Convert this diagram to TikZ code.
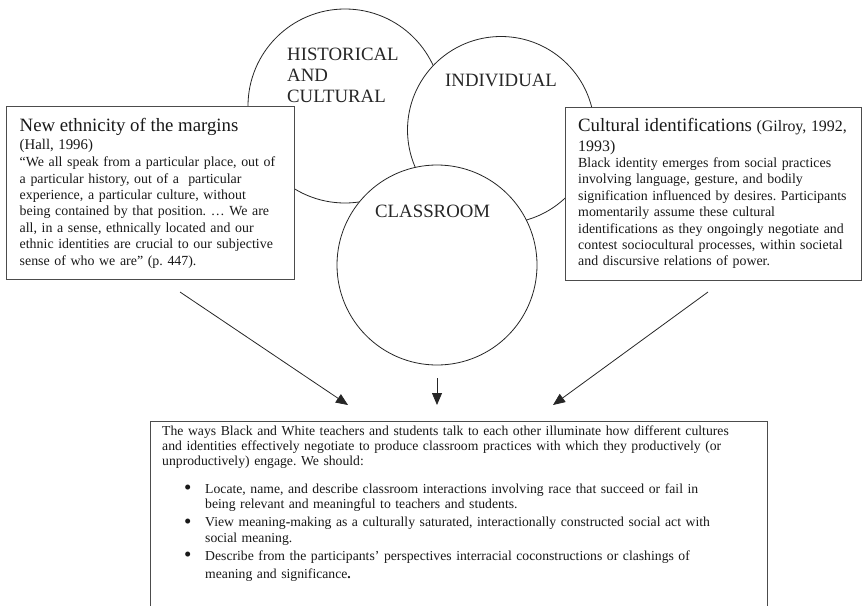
\documentclass[tikz,border=0pt]{standalone}
\usepackage{fontspec}
\setmainfont{Liberation Serif}
\usetikzlibrary{arrows.meta}
\newcommand{\listdot}{\raisebox{-1.2pt}{\fontsize{21}{15}\selectfont •}}
\begin{document}
\frenchspacing
\begin{tikzpicture}[x=1pt,y=-1pt,
  ring/.style={circle, draw=black!85, line width=0.8pt, fill=white, inner sep=0pt},
  ringlabel/.style={inner sep=0pt, anchor=base west, text width=#1, align=left,
    font=\fontsize{18.8}{21.3}\selectfont, text=black!85},
  panel/.style={draw=black!70, line width=1.2pt, fill=white, inner sep=0pt, anchor=north west},
  paneltext/.style={inner sep=0pt, anchor=base west, text width=#1, align=left,
    font=\fontsize{13.9}{16.4}\selectfont, text=black!90},
  flow/.style={draw=black!85, line width=0.8pt, -{Triangle[length=12pt,width=10pt]}}
]
\useasboundingbox (0,0) rectangle (864,605);
\clip (0,0) rectangle (864,605);

% three overlapping spheres of identity
\node[ring, minimum size=194pt] (hist) at (345,106) {};
\node[ringlabel=120pt] (histlbl) at (287,60) {HISTORICAL\\AND\\CULTURAL};
\node[ring, minimum size=187pt] (indiv) at (501,130) {};
\node[ringlabel=130pt] (indivlbl) at (445,86.7) {INDIVIDUAL};
\node[ring, minimum size=200pt] (class) at (437,265) {};
\node[ringlabel=130pt] (classlbl) at (375,217.7) {CLASSROOM};

% theory panels
\node[panel, minimum width=288pt, minimum height=173pt] (hall) at (6,106) {};
\node[paneltext=270pt] (halltxt) at (19.5,131.7) {%
  {\fontsize{18.8}{20}\selectfont New ethnicity of the margins}\\[1.4pt]
  {\fontsize{14.8}{16}\selectfont (Hall, 1996)}\\[0.8pt]
  “We all speak from a particular place, out of\\
  a particular history, out of a\ \ particular\\
  experience, a particular culture, without\\
  being contained by that position. … We are\\
  all, in a sense, ethnically located and our\\
  ethnic identities are crucial to our subjective\\
  sense of who we are” (p. 447).};

\node[panel, minimum width=296pt, minimum height=173pt] (gilroy) at (565,107) {};
\node[paneltext=285pt] (gilroytxt) at (578,131.7) {%
  {\fontsize{18.8}{20}\selectfont Cultural identifications}
  {\fontsize{15.9}{16}\selectfont (Gilroy, 1992,}\\[3.4pt]
  {\fontsize{15.9}{16}\selectfont 1993)}\\[-0.4pt]
  Black identity emerges from social practices\\
  involving language, gesture, and bodily\\
  signification influenced by desires. Participants\\
  momentarily assume these cultural\\
  identifications as they ongoingly negotiate and\\
  contest sociocultural processes, within societal\\
  and discursive relations of power.};

% synthesis panel
\node[panel, minimum width=617pt, minimum height=230pt] (synth) at (150,421) {};
\node[paneltext=610pt, font=\fontsize{13.7}{15.3}\selectfont] (synthtxt) at (162,435) {%
  The ways Black and White teachers and students talk to each other illuminate how different cultures\\
  and identities effectively negotiate to produce classroom practices with which they productively (or\\
  unproductively) engage. We should:\\[12.7pt]
  \hspace*{22pt}\makebox[21pt][l]{\listdot}Locate, name, and describe classroom interactions involving race that succeed or fail in\\
  \hspace*{43pt}being relevant and meaningful to teachers and students.\\[2.7pt]
  \hspace*{22pt}\makebox[21pt][l]{\listdot}View meaning\textbf{-}making as a culturally saturated, interactionally constructed social act with\\
  \hspace*{43pt}social meaning.\\[2.7pt]
  \hspace*{22pt}\makebox[21pt][l]{\listdot}Describe from the participants’ perspectives interracial coconstructions or clashings of\\[2.7pt]
  \hspace*{43pt}meaning and significance\textbf{.}};

% converging arrows
\coordinate (hallout) at (180,292);
\coordinate (hallin) at (348,405);
\coordinate (classout) at (437,378);
\coordinate (classin) at (437,405);
\coordinate (gilroyout) at (708,292);
\coordinate (gilroyin) at (553,405);
\draw[flow] (hallout) -- (hallin);
\draw[flow] (classout) -- (classin);
\draw[flow] (gilroyout) -- (gilroyin);
\end{tikzpicture}
\end{document}
